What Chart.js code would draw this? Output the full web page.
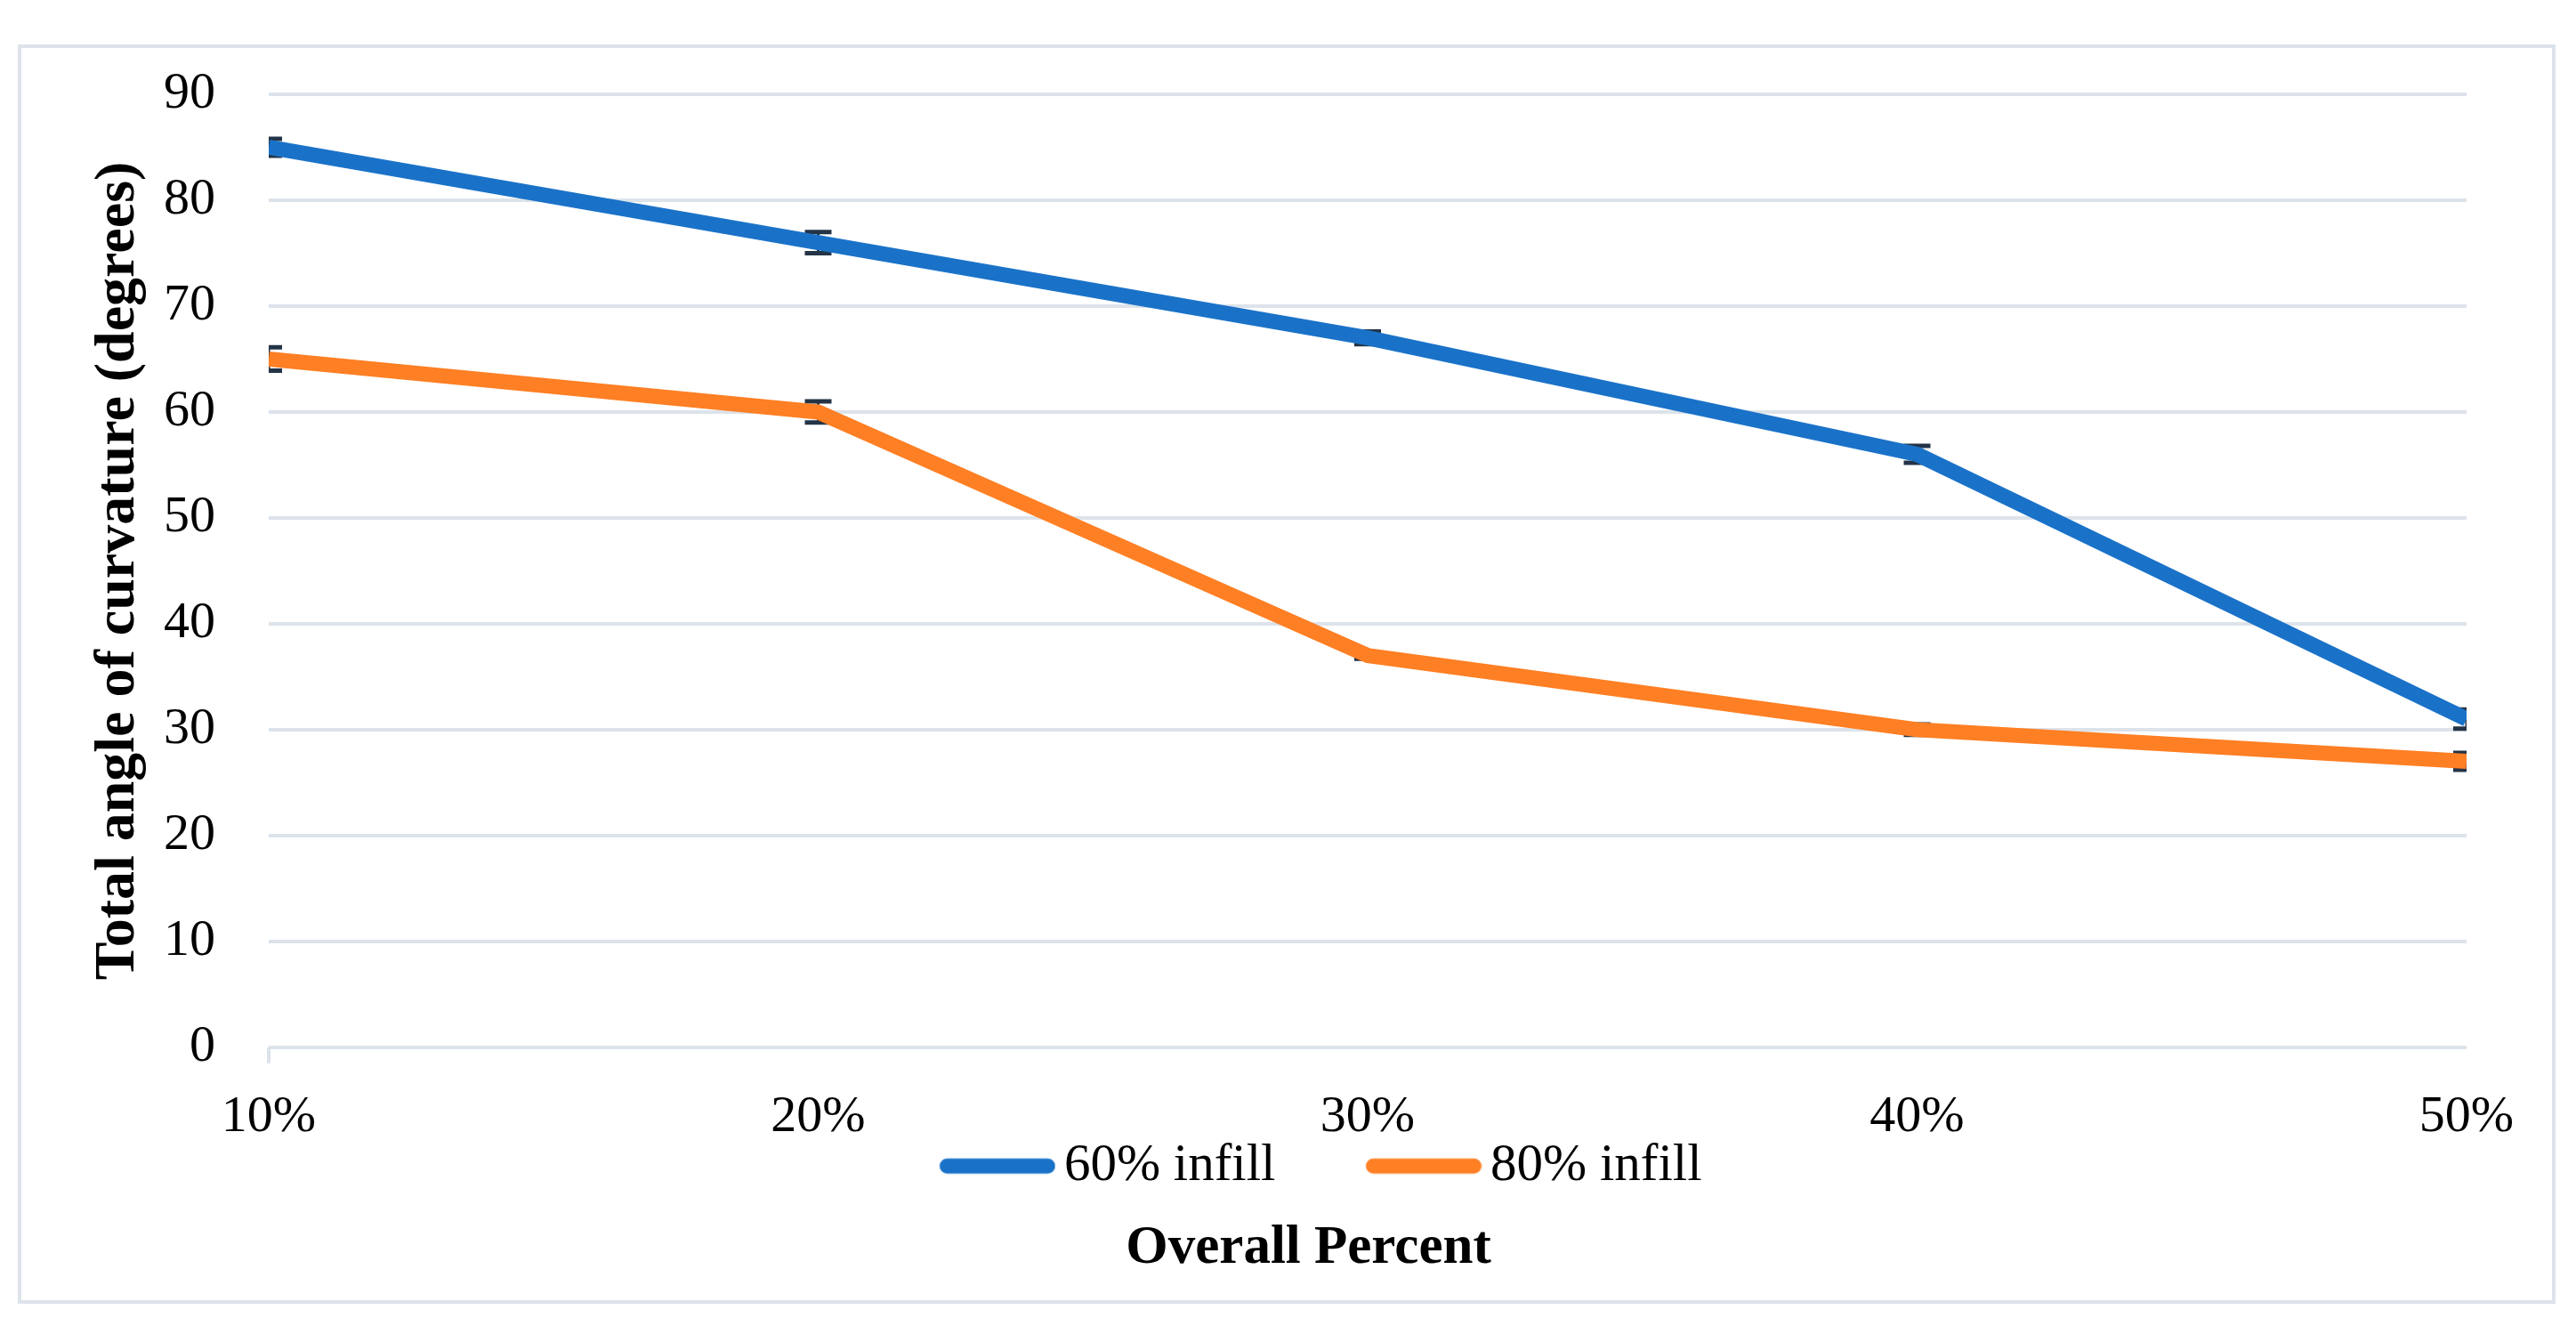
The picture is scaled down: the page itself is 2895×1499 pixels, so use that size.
<!DOCTYPE html>
<html>
<head>
<meta charset="utf-8">
<script src="https://cdn.jsdelivr.net/npm/chart.js@4.4.1/dist/chart.umd.min.js"></script>
<style>
html,body{margin:0;padding:0;background:#fff;}
canvas{display:block;}
</style>
</head>
<body>
<canvas id="c" width="2895" height="1499"></canvas>
<script>
const categories = ['10%', '20%', '30%', '40%', '50%'];
const infill60 = [85, 76, 67, 56, 31];
const infill80 = [65, 60, 37, 30, 27];
const err60 = [0.8, 1.0, 0.6, 0.8, 0.9];
const err80 = [1.1, 1.0, 0.3, 0.5, 0.8];
const yTicks = [0, 10, 20, 30, 40, 50, 60, 70, 80, 90];
const seriesNames = ['60% infill', '80% infill'];
const seriesColors = ['#1A72C8', '#FE7F24'];

const FONT = "'Liberation Serif', 'DejaVu Serif', serif";
const GRID = '#DDE3EA';

function legendSwatch(color) {
  const c = document.createElement('canvas');
  c.width = 252; c.height = 20;
  const g = c.getContext('2d');
  g.strokeStyle = color;
  g.lineWidth = 17;
  g.lineCap = 'round';
  g.beginPath();
  g.moveTo(130, 10); g.lineTo(243, 10);
  g.stroke();
  return c;
}
const swatches = seriesColors.map(legendSwatch);

const framePlugin = {
  id: 'frame',
  beforeDraw(chart) {
    const ctx = chart.ctx;
    ctx.save();
    ctx.fillStyle = '#fff';
    ctx.fillRect(0, 0, chart.width, chart.height);
    ctx.strokeStyle = GRID;
    ctx.lineWidth = 4;
    ctx.strokeRect(22, 52, 2848, 1411);
    ctx.restore();
  },
  afterLayout(chart) {
    const t = chart.titleBlock;
    if (t) { t.left += 74; }
  }
};

const errorBarPlugin = {
  id: 'errorBars',
  beforeDatasetsDraw(chart) {
    const ctx = chart.ctx;
    const xs = chart.scales.x, ys = chart.scales.y;
    const a = chart.chartArea;
    ctx.save();
    ctx.beginPath();
    ctx.rect(a.left, a.top - 20, a.right - a.left, a.bottom - a.top + 40);
    ctx.clip();
    ctx.strokeStyle = '#243447';
    chart.data.datasets.forEach(ds => {
      ds.data.forEach((v, i) => {
        const e = ds.errors[i];
        const x = xs.getPixelForValue(i);
        const yt = ys.getPixelForValue(v + e);
        const yb = ys.getPixelForValue(v - e);
        ctx.lineWidth = 3;
        ctx.beginPath();
        ctx.moveTo(x, yt); ctx.lineTo(x, yb);
        ctx.stroke();
        ctx.lineWidth = 5;
        ctx.beginPath();
        ctx.moveTo(x - 15, yt); ctx.lineTo(x + 15, yt);
        ctx.moveTo(x - 15, yb); ctx.lineTo(x + 15, yb);
        ctx.stroke();
      });
    });
    ctx.restore();
  }
};

new Chart(document.getElementById('c'), {
  type: 'line',
  data: {
    labels: categories,
    datasets: [
      { label: seriesNames[0], data: infill60, errors: err60, borderColor: seriesColors[0], backgroundColor: seriesColors[0],
        borderWidth: 17, pointRadius: 0, tension: 0, clip: 0, borderCapStyle: 'butt', borderJoinStyle: 'round' },
      { label: seriesNames[1], data: infill80, errors: err80, borderColor: seriesColors[1], backgroundColor: seriesColors[1],
        borderWidth: 17, pointRadius: 0, tension: 0, clip: 0, borderCapStyle: 'butt', borderJoinStyle: 'round' }
    ]
  },
  options: {
    responsive: false,
    devicePixelRatio: 1,
    animation: false,
    layout: { padding: { left: 95, right: 123, top: 106, bottom: 59 } },
    scales: {
      x: {
        type: 'category',
        offset: false,
        border: { display: false },
        afterFit: s => { s.height = 104; },
        grid: {
          display: true,
          drawOnChartArea: false,
          drawTicks: true,
          tickLength: 18,
          lineWidth: 4,
          color: ctx => ctx.index === 0 ? GRID : 'rgba(0,0,0,0)'
        },
        ticks: { color: '#000', font: { family: FONT, size: 58, lineHeight: 1.0 }, padding: 32, maxRotation: 0, autoSkip: false }
      },
      y: {
        min: 0, max: 90,
        afterBuildTicks: s => { s.ticks = yTicks.map(v => ({ value: v })); },
        afterFit: s => { s.width = 207; },
        border: { display: false },
        grid: { color: GRID, lineWidth: 4, drawTicks: false },
        ticks: { color: '#000', font: { family: FONT, size: 58 }, padding: 60 },
        title: {
          display: true,
          text: 'Total angle of curvature (degrees)',
          color: '#000',
          font: { family: FONT, size: 64, weight: 'bold' },
          padding: { top: 0, bottom: 0 }
        }
      }
    },
    plugins: {
      legend: {
        position: 'bottom',
        labels: {
          color: '#000',
          font: { family: FONT, size: 59, lineHeight: 1.0 },
          usePointStyle: true,
          pointStyleWidth: 212,
          boxHeight: 20,
          padding: 0,
          generateLabels: chart => {
            const items = Chart.defaults.plugins.legend.labels.generateLabels(chart);
            items.forEach((it, i) => { it.pointStyle = swatches[i]; });
            return items;
          }
        }
      },
      title: {
        display: true,
        position: 'bottom',
        text: 'Overall Percent',
        color: '#000',
        font: { family: FONT, size: 61, weight: 'bold', lineHeight: 1.2 },
        padding: { top: 17, bottom: 0 }
      },
      tooltip: { enabled: false }
    }
  },
  plugins: [framePlugin, errorBarPlugin]
});
</script>
</body>
</html>
